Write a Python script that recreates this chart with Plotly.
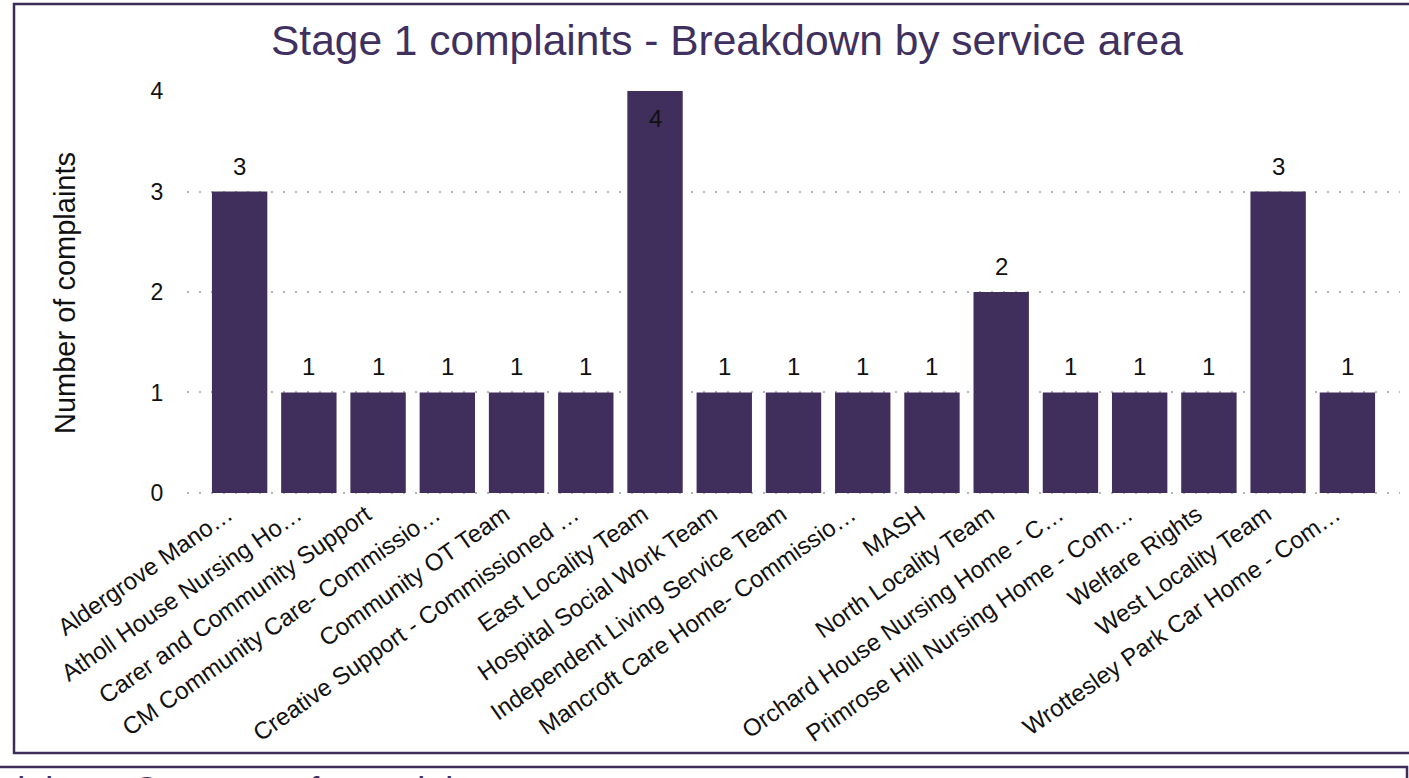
import plotly.graph_objects as go

categories = [
    "Aldergrove Mano…",
    "Atholl House Nursing Ho…",
    "Carer and Community Support",
    "CM Community Care- Commissio…",
    "Community OT Team",
    "Creative Support - Commissioned …",
    "East Locality Team",
    "Hospital Social Work Team",
    "Independent Living Service Team",
    "Mancroft Care Home- Commissio…",
    "MASH",
    "North Locality Team",
    "Orchard House Nursing Home - C…",
    "Primrose Hill Nursing Home - Com…",
    "Welfare Rights",
    "West Locality Team",
    "Wrottesley Park Car Home - Com…",
]
complaints = [3, 1, 1, 1, 1, 1, 4, 1, 1, 1, 1, 2, 1, 1, 1, 3, 1]
y_ticks = [0, 1, 2, 3, 4]

title_text = "Stage 1 complaints - Breakdown by service area"
next_title_text = "Stage 1 complaints - Category of complaints"
y_title = "Number of complaints"

W, H = 1409, 778
L, R, T, B = 187, 1400, 91, 495
SHIFT = 12  # label axis offset to the left, in px
FONT = "Liberation Sans, Arial, Helvetica, sans-serif"
PURPLE = "#402f5c"
BORDER = "#3b2d58"

ML = L - SHIFT  # figure left margin
PW = R - ML     # full plotting width incl. shift


def px(xp):
    return (xp - ML) / PW


def py(yp):
    return (B - yp) / (B - T)


ymax = max(complaints)
xs = list(range(len(categories)))
pad = 0.26
xrange_ = [-0.5 - pad, len(categories) - 0.5 + pad]
yrange_ = [-0.02, 4]
d = SHIFT / PW

fig = go.Figure()
fig.add_trace(go.Bar(
    x=xs,
    y=complaints,
    marker=dict(color=PURPLE, line=dict(width=0)),
    hoverinfo="x+y",
))
# invisible carrier trace for the category label axis
fig.add_trace(go.Scatter(
    x=xs, y=[0] * len(xs), xaxis="x2", yaxis="y2",
    mode="markers", marker=dict(opacity=0), hoverinfo="skip", showlegend=False,
))

label_annotations = [
    dict(x=i, y=v, xref="x", yref="y", text=str(v), showarrow=False,
         xanchor="center", yanchor="bottom" if v < ymax else "top",
         yshift=10 if v < ymax else -12,
         font=dict(family=FONT, size=24, color="#111111"))
    for i, v in zip(xs, complaints)
]

fig.update_layout(
    width=W, height=H,
    margin=dict(l=ML, r=W - R, t=T, b=H - B, pad=0),
    paper_bgcolor="white",
    plot_bgcolor="rgba(0,0,0,0)",
    bargap=0.2,
    showlegend=False,
    font=dict(family=FONT, color="#111111"),
    xaxis=dict(
        domain=[d, 1],
        anchor="y",
        range=xrange_,
        showticklabels=False,
        showgrid=False, zeroline=False, showline=False, ticks="",
        fixedrange=True,
    ),
    xaxis2=dict(
        domain=[0, 1 - d],
        anchor="y2",
        range=xrange_,
        tickmode="array",
        tickvals=xs,
        ticktext=categories,
        tickangle=-35,
        tickfont=dict(family=FONT, size=24, color="#111111"),
        showgrid=False, zeroline=False, showline=False,
        ticks="",
        fixedrange=True,
    ),
    yaxis=dict(
        anchor="x",
        domain=[0, 1],
        range=yrange_,
        tickmode="array",
        tickvals=y_ticks,
        ticktext=[str(t) for t in y_ticks],
        tickfont=dict(family=FONT, size=23, color="#111111"),
        showgrid=True, gridcolor="#b5b5b5", griddash="2px,10px", gridwidth=1.5,
        zeroline=False, showline=False,
        ticks="outside", ticklen=18, tickcolor="rgba(0,0,0,0)",
        fixedrange=True,
    ),
    yaxis2=dict(
        anchor="x2",
        domain=[0, 1],
        range=yrange_,
        showticklabels=False, showgrid=False, zeroline=False, showline=False,
        ticks="", fixedrange=True,
    ),
    annotations=label_annotations + [
        dict(text=title_text, xref="paper", yref="paper",
             x=px(727), y=py(40), xanchor="center", yanchor="middle",
             showarrow=False, font=dict(family=FONT, size=42.5, color="#3f3060")),
        dict(text=y_title, xref="paper", yref="paper", textangle=-90,
             x=px(65), y=py(293), xanchor="center", yanchor="middle",
             showarrow=False, font=dict(family=FONT, size=29, color="#111111")),
        dict(text=next_title_text, xref="paper", yref="paper",
             x=px(502), y=py(769), xanchor="right", yanchor="top",
             showarrow=False, borderpad=0,
             font=dict(family=FONT, size=36, color="#3f3060")),
    ],
    shapes=[
        dict(type="rect", xref="paper", yref="paper",
             x0=px(14), x1=px(1440), y0=py(4), y1=py(753),
             line=dict(color=BORDER, width=2.5), fillcolor="rgba(0,0,0,0)", layer="above"),
        dict(type="rect", xref="paper", yref="paper",
             x0=px(-20), x1=px(1407), y0=py(767), y1=py(820),
             line=dict(color=BORDER, width=2.5), fillcolor="rgba(0,0,0,0)", layer="above"),
    ],
)

fig.write_html("out.html", config={"displayModeBar": False})
